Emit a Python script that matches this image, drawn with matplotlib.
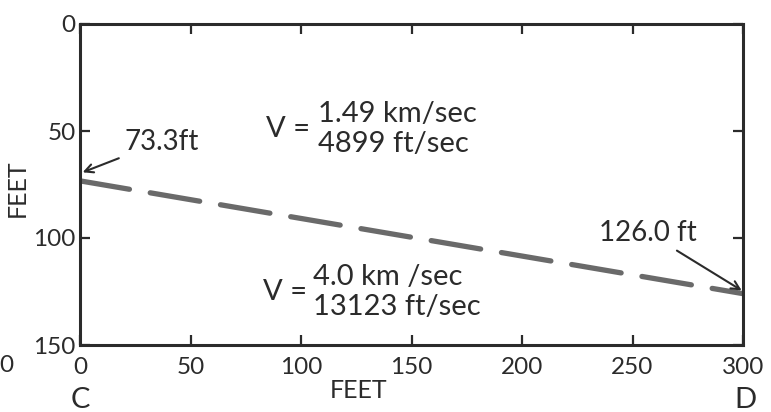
import matplotlib
matplotlib.use("Agg")
import matplotlib.pyplot as plt
from matplotlib.transforms import blended_transform_factory

# ---- data ----
x_ends = [0, 300]          # horizontal distance, feet (C to D)
depth_ends = [73.3, 126.0]  # refractor depth, feet
x_ticks = [0, 50, 100, 150, 200, 250, 300]
y_ticks = [0, 50, 100, 150]
label_left = "73.3ft"
label_right = "126.0 ft"
upper_v = ["1.49 km/sec", "4899 ft/sec"]
lower_v = ["4.0 km /sec", "13123 ft/sec"]

plt.rcParams['font.family'] = ['Lato', 'DejaVu Sans']
ink = "#2b2b2b"

fig = plt.figure(figsize=(7.71, 4.12), dpi=100)
ax = fig.add_axes([80/771, 1-345/412, (743-80)/771, (345-24)/412])

ax.plot(x_ends, depth_ends, color="#6a6a6a", lw=3.8, dashes=(9.5, 4.0),
        solid_capstyle="round", dash_capstyle="round")

ax.set_xlim(0, 300)
ax.set_ylim(150, 0)
ax.set_xticks(x_ticks)
ax.set_yticks(y_ticks)
ax.tick_params(direction="in", length=7, width=1.6, colors=ink, labelsize=17.5,
               top=True, right=True, labelcolor=ink)
ax.tick_params(axis="x", pad=9)
ax.tick_params(axis="y", pad=3)
for s in ax.spines.values():
    s.set_linewidth(2.2)
    s.set_color(ink)

ax.set_ylabel("FEET", fontsize=18, color=ink)
ax.set_xlabel("FEET", fontsize=18, color=ink)
ax.xaxis.set_label_coords((359-80)/663, (345-379)/321)
ax.yaxis.set_label_coords((29-80)/663, 0.49)

fs = 20
# end annotations
ax.annotate(label_left, xy=(x_ends[0] + 1.2, depth_ends[0] - 4), xytext=(20.0, 55.0),
            fontsize=fs, color=ink, ha="left", va="center",
            arrowprops=dict(arrowstyle="->", color=ink, lw=1.5, shrinkA=2, shrinkB=0,
                            mutation_scale=15))
ax.annotate(label_right, xy=(x_ends[1] - 0.6, depth_ends[1] - 1.5), xytext=(279.0, 97.5),
            fontsize=fs, color=ink, ha="right", va="center",
            arrowprops=dict(arrowstyle="->", color=ink, lw=1.5, shrinkA=3, shrinkB=0,
                            mutation_scale=15))

# velocities
fv = 21
ax.text(84.0, 49.2, "V =", fontsize=fv, color=ink, ha="left", va="center")
ax.text(107.5, 42.0, upper_v[0], fontsize=fv, color=ink, ha="left", va="center")
ax.text(107.5, 56.3, upper_v[1], fontsize=fv, color=ink, ha="left", va="center")
ax.text(83.0, 125.2, "V =", fontsize=fv, color=ink, ha="left", va="center")
ax.text(105.4, 118.0, lower_v[0], fontsize=fv, color=ink, ha="left", va="center")
ax.text(105.4, 132.3, lower_v[1], fontsize=fv, color=ink, ha="left", va="center")

# end letters
tr = blended_transform_factory(ax.transData, ax.transAxes)
ax.text(x_ends[0], (345-400)/321, "C", transform=tr, fontsize=21, color=ink,
        ha="center", va="center")
ax.text(x_ends[1] + 1, (345-400)/321, "D", transform=tr, fontsize=21, color=ink,
        ha="center", va="center")
# stray label from neighbouring panel
fig.text(6/771, 1-366/412, "0", fontsize=17.5, color=ink, ha="center", va="center")

fig.savefig("out.png", dpi=100)
